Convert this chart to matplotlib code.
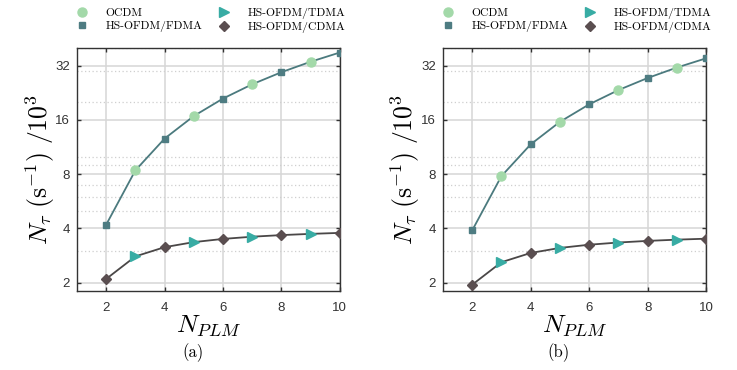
import matplotlib
matplotlib.use("Agg")
import matplotlib.pyplot as plt
import numpy as np
from matplotlib.ticker import FixedLocator, LogLocator, NullFormatter

plt.rcParams['mathtext.fontset'] = 'cm'
plt.rcParams['font.family'] = ['Liberation Sans', 'DejaVu Sans']

# N_PLM values
n_plm = [2, 3, 4, 5, 6, 7, 8, 9, 10]
x_odd = [3, 5, 7, 9]
x_even = [2, 4, 6, 8, 10]

# (a)
a_upper = [4.2, 8.4, 12.6, 16.8, 21.0, 25.2, 29.4, 33.6, 37.8]
a_lower = [2.10, 2.80, 3.15, 3.36, 3.50, 3.60, 3.675, 3.733, 3.78]
# (b)
b_upper = [3.9, 7.8, 11.7, 15.6, 19.5, 23.4, 27.3, 31.2, 35.1]
b_lower = [1.95, 2.60, 2.925, 3.12, 3.25, 3.343, 3.413, 3.467, 3.51]

c_ocdm = '#a3d9a9'
c_fdma = '#4e7c82'
c_tdma = '#38aca4'
c_cdma = '#5a4e50'
c_line_up = '#4b7a7e'
c_line_low = '#4a4747'


def panel(ax, upper, lower, caption):
    up = dict(zip(n_plm, upper))
    low = dict(zip(n_plm, lower))
    ax.plot(n_plm, upper, color=c_line_up, lw=1.3, zorder=3)
    ax.plot(n_plm, lower, color=c_line_low, lw=1.3, zorder=3)
    ax.plot(x_odd, [up[k] for k in x_odd], ls='none', marker='o', ms=6.5,
            color=c_ocdm, label='OCDM', zorder=4)
    ax.plot(x_even, [up[k] for k in x_even], ls='none', marker='s', ms=5,
            color=c_fdma, label='HS-OFDM/FDMA', zorder=4)
    ax.plot(x_odd, [low[k] for k in x_odd], ls='none', marker='>', ms=7,
            color=c_tdma, label='HS-OFDM/TDMA', zorder=4)
    ax.plot(x_even, [low[k] for k in x_even], ls='none', marker='D', ms=5.5,
            color=c_cdma, label='HS-OFDM/CDMA', zorder=4)

    ax.set_yscale('log', base=2)
    ax.set_xlim(1, 10)
    ax.set_ylim(1.8, 40)
    ax.yaxis.set_major_locator(FixedLocator([2, 4, 8, 16, 32]))
    ax.set_yticklabels(['2', '4', '8', '16', '32'])
    ax.yaxis.set_minor_locator(LogLocator(base=10, subs=np.arange(1, 10)))
    ax.yaxis.set_minor_formatter(NullFormatter())
    ax.set_xticks([2, 4, 6, 8, 10])

    ax.grid(which='major', color='#d6d6d6', lw=1.1, ls='-')
    ax.grid(which='minor', axis='y', color='#cfcfcf', lw=0.9, ls=(0, (1, 2)))
    ax.set_axisbelow(True)
    ax.tick_params(which='major', direction='in', length=3, width=1,
                   top=True, right=True, labelsize=9.5, color='#333333',
                   labelcolor='#333333')
    ax.tick_params(axis='x', which='major', pad=8)
    ax.tick_params(axis='y', which='major', pad=5)
    ax.tick_params(which='minor', length=0)
    for s in ax.spines.values():
        s.set_color('#333333')
        s.set_linewidth(1.0)

    ax.set_xlabel(r'$N_{PLM}$', fontsize=18.5, labelpad=0)
    ax.set_ylabel(r'$N_\tau\ (\mathrm{s}^{-1})\ /10^3$', fontsize=18.5)
    ax.yaxis.set_label_coords(-0.078, 0.5)
    ax.legend(loc='lower left', bbox_to_anchor=(-0.015, 1.063), ncol=2,
              frameon=False, prop={'family': 'cmr10', 'size': 8.4},
              handletextpad=1.3, columnspacing=1.1, labelspacing=0.2,
              handlelength=1.5, borderaxespad=0, borderpad=0)
    ax.text(0.44, -0.255, caption, transform=ax.transAxes, ha='center',
            va='center', fontsize=12, family='cmr10')


fig = plt.figure(figsize=(7.37, 3.70), dpi=100)
ax1 = fig.add_axes([0.1045, 0.2135, 0.3565, 0.6565])
ax2 = fig.add_axes([0.601, 0.2135, 0.357, 0.6565])
panel(ax1, a_upper, a_lower, '(a)')
panel(ax2, b_upper, b_lower, '(b)')

fig.savefig('out.png', dpi=100)
